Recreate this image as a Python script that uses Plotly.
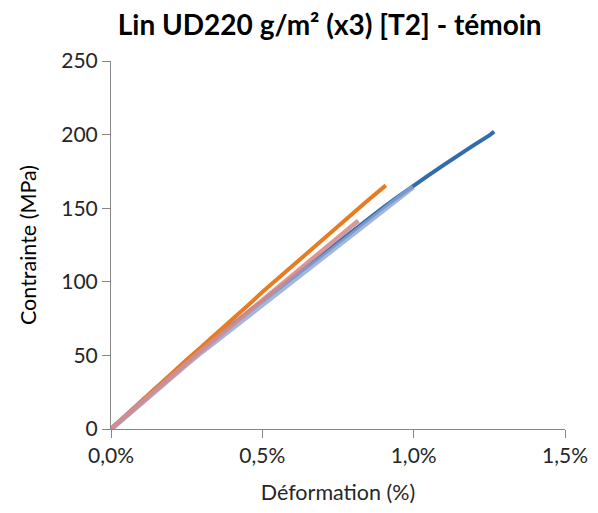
import plotly.graph_objects as go

# Strain (%) / stress (MPa) curves
blue_x = [0, 0.05, 0.1, 0.15, 0.2, 0.25, 0.3, 0.35, 0.4, 0.45, 0.5, 0.55, 0.6, 0.65, 0.7, 0.75, 0.8, 0.85, 0.9, 0.95, 1.0, 1.05, 1.1, 1.15, 1.2, 1.25, 1.266]
blue_y = [0, 9.5, 19, 28, 37, 46, 54.5, 63, 71, 79, 87, 95, 103, 111, 119, 127, 135, 143, 150.5, 158, 165.5, 172.5, 179.5, 186.5, 193, 199.5, 202]

orange_x = [0, 0.05, 0.1, 0.15, 0.2, 0.25, 0.3, 0.35, 0.4, 0.45, 0.5, 0.55, 0.6, 0.65, 0.7, 0.75, 0.8, 0.85, 0.908]
orange_y = [0, 9.5, 19, 28.5, 37.5, 47, 56, 65, 74, 83.5, 93, 102, 111, 120, 129, 138, 147, 155.5, 165.5]

lightblue_x = [0, 0.05, 0.1, 0.15, 0.2, 0.25, 0.3, 0.35, 0.4, 0.45, 0.5, 0.55, 0.6, 0.65, 0.7, 0.75, 0.8, 0.85, 0.9, 0.95, 0.998]
lightblue_y = [0, 9, 18, 27, 35.5, 44, 52.5, 60.5, 68.5, 76.5, 84.5, 92.5, 100.5, 108.5, 116.5, 124.5, 132.5, 140.5, 148.5, 156.5, 164.5]

pink_x = [0, 0.05, 0.1, 0.15, 0.2, 0.25, 0.3, 0.35, 0.4, 0.45, 0.5, 0.55, 0.6, 0.65, 0.7, 0.75, 0.8, 0.817]
pink_y = [0, 9, 18, 27, 36, 45, 53.5, 62, 70.5, 78.5, 87, 95.5, 104, 112.5, 121, 129.5, 138, 141.5]

x_tickvals = [0, 0.5, 1.0, 1.5]
x_ticktext = ["0,0%", "0,5%", "1,0%", "1,5%"]
y_tickvals = [0, 50, 100, 150, 200, 250]

fig = go.Figure()
fig.add_trace(go.Scatter(x=blue_x, y=blue_y, mode="lines",
                         line=dict(color="rgb(50,108,172)", width=4), name="Éprouvette 1"))
fig.add_trace(go.Scatter(x=orange_x, y=orange_y, mode="lines",
                         line=dict(color="rgb(230,125,35)", width=4), name="Éprouvette 2"))
fig.add_trace(go.Scatter(x=lightblue_x, y=lightblue_y, mode="lines", opacity=0.8,
                         line=dict(color="rgb(140,165,215)", width=5.5), name="Éprouvette 3"))
fig.add_trace(go.Scatter(x=pink_x, y=pink_y, mode="lines", opacity=0.9,
                         line=dict(color="rgb(215,140,140)", width=4.5), name="Éprouvette 4"))

fam = "Lato, 'Open Sans', sans-serif"
axis_font = dict(family=fam, size=21, color="#262626")

fig.update_layout(
    width=598, height=513,
    paper_bgcolor="white", plot_bgcolor="white",
    showlegend=False,
    margin=dict(l=103, r=41, t=53, b=92),
    title=dict(text="<b>Lin UD220 g/m² (x3) [T2] - témoin</b>",
               x=0.538, xanchor="center", y=0.967, yanchor="middle",
               font=dict(family=fam, size=28, color="#000000")),
    xaxis=dict(range=[0, 1.5], tickvals=x_tickvals, ticktext=x_ticktext,
               showgrid=False, zeroline=False, showline=True, linecolor="#868686", linewidth=1,
               ticks="outside", ticklen=8, tickcolor="#868686",
               tickfont=axis_font,
               title=dict(text="Déformation (%)", font=dict(family=fam, size=21.5, color="#262626"), standoff=18)),
    yaxis=dict(range=[0, 250], tickvals=y_tickvals,
               showgrid=False, zeroline=False, showline=True, linecolor="#868686", linewidth=1,
               ticks="outside", ticklen=8, tickcolor="#868686",
               tickfont=axis_font,
               title=dict(text="Contrainte (MPa)", font=dict(family=fam, size=21.5, color="#000000"), standoff=18)),
)

fig.write_html("out.html")
